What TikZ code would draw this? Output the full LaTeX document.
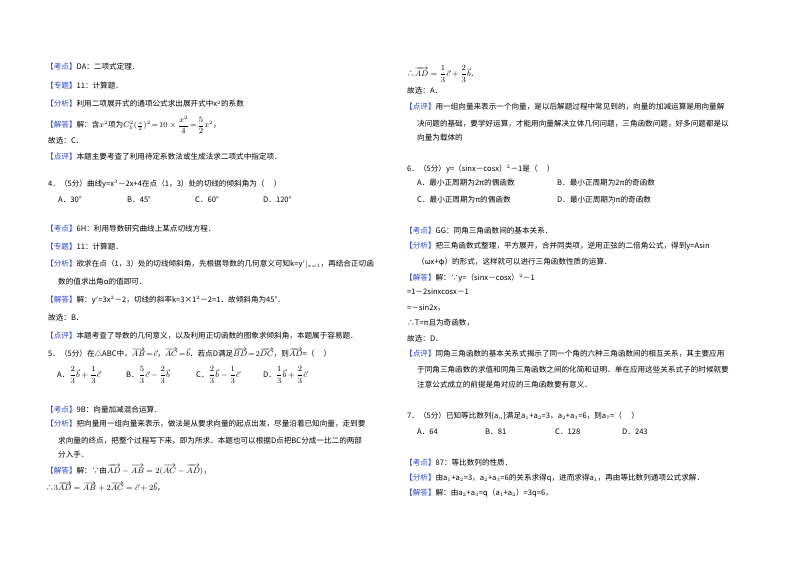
\documentclass[tikz,border=0pt]{standalone}
\usepackage{amsmath}
\usepackage{fontspec}
\setmainfont{Noto Sans CJK SC}
\usepackage{xcolor}
\definecolor{lab}{RGB}{40,70,210}
\newcommand{\lb}[1]{{\color{lab}【#1】}}
\tikzset{t/.style={anchor=west,inner sep=0pt,font=\fontsize{7.6}{9}\selectfont}}
\begin{document}
\begin{tikzpicture}[x=1pt,y=-1pt]
\useasboundingbox[fill=white] (0,0) rectangle (800,565);
% left column
\node[t] (l1) at (46,67) {\lb{考点}DA：二项式定理．};
\node[t] (l2) at (46,86) {\lb{专题}11：计算题．};
\node[t] (l3) at (46,104) {\lb{分析}利用二项展开式的通项公式求出展开式中x$^2$的系数};
\node[t] (l4) at (46,125) {\lb{解答}解：含$x^2$项为$C_5^2(\frac{x}{2})^2\!=\!10\times\dfrac{x^2}{4}\!=\!\dfrac{5}{2}x^2$，};
\node[t] (l5) at (48,141) {故选：C．};
\node[t] (l6) at (46,157) {\lb{点评}本题主要考查了利用待定系数法或生成法求二项式中指定项．};
\node[t] (l7) at (48,184) {4．（5分）曲线y=x$^3$－2x+4在点（1，3）处的切线的倾斜角为（\quad\ ）};
\node[t] (l8a) at (58,200) {A．30°};
\node[t] (l8b) at (127,200) {B．45°};
\node[t] (l8c) at (195,200) {C．60°};
\node[t] (l8d) at (263,200) {D．120°};
\node[t] (l9) at (46,229) {\lb{考点}6H：利用导数研究曲线上某点切线方程．};
\node[t] (l10) at (46,247) {\lb{专题}11：计算题．};
\node[t] (l11) at (46,264) {\lb{分析}欲求在点（1，3）处的切线倾斜角，先根据导数的几何意义可知k=y$'|_{x=1}$，再结合正切函};
\node[t] (l12) at (58,282) {数的值求出角α的值即可．};
\node[t] (l13) at (46,300) {\lb{解答}解：y$'$=3x$^2$－2，切线的斜率k=3×1$^2$－2=1．故倾斜角为45°．};
\node[t] (l14) at (48,318) {故选：B．};
\node[t] (l15) at (46,336) {\lb{点评}本题考查了导数的几何意义，以及利用正切函数的图象求倾斜角，本题属于容易题．};
\node[t] (l16) at (48,353) {5．（5分）在△ABC中，$\overrightarrow{AB}\!=\!\vec c$，$\overrightarrow{AC}\!=\!\vec b$．若点D满足$\overrightarrow{BD}\!=\!2\overrightarrow{DC}$，则$\overrightarrow{AD}$=（\quad\ ）};
\node[t] (l17a) at (57,375) {A．$\dfrac{2}{3}\vec b+\dfrac{1}{3}\vec c$};
\node[t] (l17b) at (126,375) {B．$\dfrac{5}{3}\vec c-\dfrac{2}{3}\vec b$};
\node[t] (l17c) at (196,375) {C．$\dfrac{2}{3}\vec b-\dfrac{1}{3}\vec c$};
\node[t] (l17d) at (263,375) {D．$\dfrac{1}{3}\vec b+\dfrac{2}{3}\vec c$};
\node[t] (l18) at (46,410) {\lb{考点}9B：向量加减混合运算．};
\node[t] (l19) at (46,424) {\lb{分析}把向量用一组向量来表示，做法是从要求向量的起点出发，尽量沿着已知向量，走到要};
\node[t] (l20) at (58,441) {求向量的终点，把整个过程写下来，即为所求．本题也可以根据D点把BC分成一比二的两部};
\node[t] (l21) at (58,455) {分入手．};
\node[t] (l22) at (46,470) {\lb{解答}解：∵由$\overrightarrow{AD}-\overrightarrow{AB}=2(\overrightarrow{AC}-\overrightarrow{AD})$，};
\node[t] (l23) at (46,487) {∴$3\overrightarrow{AD}=\overrightarrow{AB}+2\overrightarrow{AC}=\vec c+2\vec b$，};
% right column
\node[t] (r1) at (407,74) {∴$\overrightarrow{AD}=\dfrac{1}{3}\vec c+\dfrac{2}{3}\vec b$．};
\node[t] (r2) at (407,91) {故选：A．};
\node[t] (r3) at (405,107) {\lb{点评}用一组向量来表示一个向量，是以后解题过程中常见到的，向量的加减运算是用向量解};
\node[t] (r4) at (417,124) {决问题的基础，要学好运算，才能用向量解决立体几何问题，三角函数问题，好多问题都是以};
\node[t] (r5) at (417,138) {向量为载体的};
\node[t] (r6) at (407,169) {6．（5分）y=（sinx－cosx）$^2$－1是（\quad\ ）};
\node[t] (r7a) at (417,183) {A．最小正周期为2π的偶函数};
\node[t] (r7b) at (557,183) {B．最小正周期为2π的奇函数};
\node[t] (r8a) at (417,200) {C．最小正周期为π的偶函数};
\node[t] (r8b) at (557,200) {D．最小正周期为π的奇函数};
\node[t] (r9) at (405,231) {\lb{考点}GG：同角三角函数间的基本关系．};
\node[t] (r10) at (405,246) {\lb{分析}把三角函数式整理，平方展开，合并同类项，逆用正弦的二倍角公式，得到y=Asin};
\node[t] (r11) at (417,262) {（ωx+φ）的形式，这样就可以进行三角函数性质的运算．};
\node[t] (r12) at (405,278) {\lb{解答}解：∵y=（sinx－cosx）$^2$－1};
\node[t] (r13) at (407,292) {=1－2sinxcosx－1};
\node[t] (r14) at (407,308) {=－sin2x，};
\node[t] (r15) at (407,323) {∴T=π且为奇函数，};
\node[t] (r16) at (407,339) {故选：D．};
\node[t] (r17) at (405,354) {\lb{点评}同角三角函数的基本关系式揭示了同一个角的六种三角函数间的相互关系，其主要应用};
\node[t] (r18) at (417,370) {于同角三角函数的求值和同角三角函数之间的化简和证明．单在应用这些关系式子的时候就要};
\node[t] (r19) at (417,385) {注意公式成立的前提是角对应的三角函数要有意义．};
\node[t] (r20) at (407,416) {7．（5分）已知等比数列\{a$_n$\}满足a$_1$+a$_2$=3，a$_2$+a$_3$=6，则a$_7$=（\quad\ ）};
\node[t] (r21a) at (417,432) {A．64};
\node[t] (r21b) at (485,432) {B．81};
\node[t] (r21c) at (555,432) {C．128};
\node[t] (r21d) at (622,432) {D．243};
\node[t] (r22) at (405,463) {\lb{考点}87：等比数列的性质．};
\node[t] (r23) at (405,478) {\lb{分析}由a$_1$+a$_2$=3，a$_2$+a$_3$=6的关系求得q，进而求得a$_1$，再由等比数列通项公式求解．};
\node[t] (r24) at (405,493) {\lb{解答}解：由a$_2$+a$_3$=q（a$_1$+a$_2$）=3q=6，};
\end{tikzpicture}
\end{document}
